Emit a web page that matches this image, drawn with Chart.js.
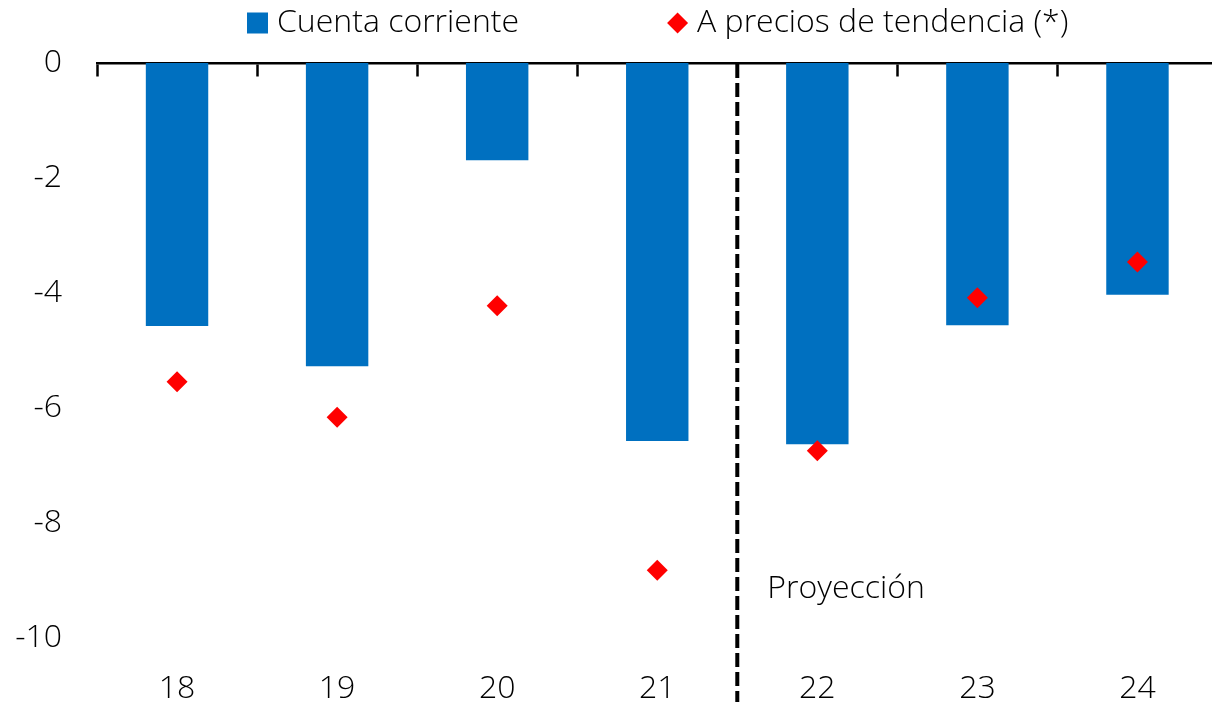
<!DOCTYPE html>
<html>
<head>
<meta charset="utf-8">
<script src="https://cdn.jsdelivr.net/npm/chart.js@4/dist/chart.umd.min.js"></script>
<style>
  html, body { margin: 0; padding: 0; background: #fff; overflow: hidden; }
  canvas { display: block; }
</style>
</head>
<body>
<canvas id="cuentaChart" width="1228" height="702"></canvas>
<script>
// years (20xx), current account and trend-price balance, % of GDP
const years = ['18', '19', '20', '21', '22', '23', '24'];
const cuentaCorriente = [-4.57, -5.27, -1.69, -6.57, -6.63, -4.56, -4.03];
const preciosTendencia = [-5.54, -6.16, -4.22, -8.82, -6.74, -4.08, -3.46];
const yTicks = [0, -2, -4, -6, -8, -10];
const seriesNames = ['Cuenta corriente', 'A precios de tendencia (*)'];
const noteText = 'Proyección';

const FAMILY = '"Open Sans", Lato, sans-serif';
const FONT = '300 32px ' + FAMILY;
const tickFont = { family: FAMILY, size: 32, weight: '300' };
const BLUE = '#0070C0';
const RED = '#FF0000';

// legend drawn at the top, marker + text per series
const topLegend = {
    id: 'topLegend',
    afterDraw(chart) {
        const ctx = chart.ctx;
        const area = chart.chartArea;
        ctx.save();
        ctx.font = FONT;
        ctx.textBaseline = 'middle';
        const box = 21, gap = 9, itemGap = 148;
        let x = area.left + 150;
        const y = 23;
        seriesNames.forEach((name, i) => {
            if (i === 0) {
                ctx.fillStyle = BLUE;
                ctx.fillRect(x, y - box / 2, box, box);
            } else {
                ctx.fillStyle = RED;
                ctx.beginPath();
                ctx.moveTo(x + box / 2, y - box / 2);
                ctx.lineTo(x + box, y);
                ctx.lineTo(x + box / 2, y + box / 2);
                ctx.lineTo(x, y);
                ctx.closePath();
                ctx.fill();
            }
            ctx.fillStyle = '#000';
            ctx.fillText(name, x + box + gap, y);
            x += box + gap + ctx.measureText(name).width + itemGap;
        });
        ctx.restore();
    }
};

// dashed separator between actual data and projection
const projectionLine = {
    id: 'projectionLine',
    afterDatasetsDraw(chart) {
        const ctx = chart.ctx;
        const xs = chart.scales.x;
        const ys = chart.scales.y;
        const xLine = (xs.getPixelForValue(3) + xs.getPixelForValue(4)) / 2;
        ctx.save();
        ctx.strokeStyle = '#000';
        ctx.lineWidth = 4;
        ctx.setLineDash([14, 5]);
        ctx.beginPath();
        ctx.moveTo(xLine, chart.chartArea.top + 1);
        ctx.lineTo(xLine, chart.height);
        ctx.stroke();
        ctx.setLineDash([]);
        ctx.font = FONT;
        ctx.fillStyle = '#000';
        ctx.textBaseline = 'middle';
        ctx.fillText(noteText, xLine + 30, ys.getPixelForValue(-9.15));
        ctx.restore();
    }
};

const ctx = document.getElementById('cuentaChart').getContext('2d');
new Chart(ctx, {
    data: {
        labels: years,
        datasets: [{
            type: 'bar',
            label: seriesNames[0],
            data: cuentaCorriente,
            backgroundColor: BLUE,
            borderWidth: 0,
            barPercentage: 0.39,
            categoryPercentage: 1,
            xAxisID: 'x',
            order: 2
        }, {
            type: 'line',
            label: seriesNames[1],
            data: preciosTendencia,
            showLine: false,
            pointStyle: 'rectRot',
            pointRadius: 10.5,
            pointHoverRadius: 10.5,
            pointBackgroundColor: RED,
            pointBorderWidth: 0,
            xAxisID: 'x',
            order: 1
        }]
    },
    options: {
        responsive: false,
        animation: false,
        devicePixelRatio: 1,
        layout: { padding: { top: 63, right: 0, bottom: 0, left: 0 } },
        plugins: {
            legend: { display: false },
            tooltip: { enabled: false }
        },
        scales: {
            x: {
                type: 'category',
                position: { y: 0 },
                offset: true,
                grid: {
                    offset: true,
                    drawOnChartArea: false,
                    drawTicks: true,
                    tickLength: 12,
                    tickWidth: 2.5,
                    tickColor: '#000'
                },
                border: { display: true, color: '#000', width: 2.5 },
                ticks: { display: false },
                afterFit: s => { s.height = 0; }
            },
            x2: {
                type: 'category',
                position: 'bottom',
                offset: true,
                grid: { display: false },
                border: { display: false },
                ticks: { font: tickFont, color: '#000', padding: 14 },
                afterFit: s => { s.height = 54; }
            },
            y: {
                min: -10.17,
                max: 0,
                grid: { display: false },
                border: { display: false },
                ticks: { font: tickFont, color: '#000', padding: 27 },
                afterBuildTicks: s => { s.ticks = yTicks.map(v => ({ value: v })); },
                afterFit: s => { s.width = 97; }
            }
        }
    },
    plugins: [topLegend, projectionLine]
});
</script>
</body>
</html>
